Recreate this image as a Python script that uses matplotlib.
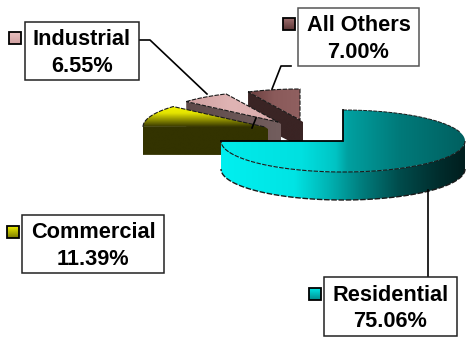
"""Customer class shares as an exploded 3D-look pie with boxed callouts."""

import matplotlib
matplotlib.use("Agg")
import matplotlib.pyplot as plt
import numpy as np
from matplotlib.colors import LinearSegmentedColormap
from matplotlib.patches import PathPatch, Rectangle
from matplotlib.path import Path

plt.rcParams["font.family"] = ["Liberation Sans", "DejaVu Sans"]

categories = ["Residential", "Commercial", "Industrial", "All Others"]
shares = [75.06, 11.39, 6.55, 7.00]

# layout, in pixels from the top left corner
W, H = 466, 337
RX, RY, DEPTH = 122, 31, 28
centers = {"Residential": (343, 141), "Commercial": (265, 127),
           "Industrial": (278, 122), "All Others": (300, 120)}
boxes = {"Residential": (324, 277, 133, 59), "Commercial": (22, 215, 142, 58),
         "Industrial": (25, 22, 114, 58), "All Others": (298, 8, 121, 58)}
swatches = {"Residential": (309, 288), "Commercial": (7, 226),
            "Industrial": (9, 32), "All Others": (283, 18)}
leaders = {"Residential": [(428, 190), (428, 277)],
           "Commercial": [(256, 118), (252, 128)],
           "Industrial": [(139, 40), (150, 40), (207, 94)],
           "All Others": [(291, 66), (281, 66), (272, 89)]}

top_colors = {"Residential": [(0, "#00ebeb"), (0.33, "#00e0e0"), (0.47, "#00c4c4"),
                              (0.52, "#00a0a0"), (0.73, "#007a7a"), (1, "#006060")],
              "Commercial": ["#f4f400", "#e4e400", "#8c8c00", "#333300"],
              "Industrial": ["#cfa0a0", "#e0b4b4", "#d8aaaa"],
              "All Others": ["#6a3e3e", "#8a5a5a", "#906060"]}
side_colors = {"Residential": [(0, "#00f0f0"), (0.3, "#00e4e4"), (0.45, "#00b0b0"),
                               (0.57, "#008080"), (0.73, "#004c4c"), (0.9, "#002c2c"),
                               (1, "#001e1e")],
               "Commercial": ["#333300", "#333300"],
               "Industrial": ["#5e4a4a", "#735e5e"],
               "All Others": ["#3a2424", "#3a2424"]}
swatch_colors = {"Residential": ["#00e8e8", "#008c8c"], "Commercial": ["#f0f000", "#7a7a00"],
                 "Industrial": ["#e8c0c0", "#d0a0a0"], "All Others": ["#a07070", "#5a3434"]}


def ellipse_point(cx, cy, angle):
    # angle is clockwise from north, in degrees
    a = np.radians(angle)
    return cx + RX * np.sin(a), cy - RY * np.cos(a)


def arc(cx, cy, start, stop):
    angles = np.linspace(start, stop, 90)
    x, y = ellipse_point(cx, cy, angles)
    return np.column_stack([x, y])


def gradient_fill(ax, verts, colors, vertical=False, zorder=1):
    cmap = LinearSegmentedColormap.from_list("face", colors)
    x0, y0 = verts.min(axis=0)
    x1, y1 = verts.max(axis=0)
    ramp = np.linspace(0, 1, 256)
    ramp = ramp[:, None] if vertical else ramp[None, :]
    im = ax.imshow(ramp, cmap=cmap, extent=(x0, x1, y1, y0), aspect="auto",
                   zorder=zorder, interpolation="bilinear", origin="upper")
    clip = PathPatch(Path(np.vstack([verts, verts[:1]]), closed=True),
                     transform=ax.transData, fc="none", ec="none")
    ax.add_patch(clip)
    im.set_clip_path(clip)


def dashed(ax, verts, zorder, lw=0.8):
    ax.plot(verts[:, 0], verts[:, 1], color="#1a1a1a", lw=lw, zorder=zorder,
            ls=(0, (4, 1.2)), solid_capstyle="butt")


fig = plt.figure(figsize=(W / 100, H / 100), dpi=100)
ax = fig.add_axes([0, 0, 1, 1])

# slice angles come from the shares, running clockwise from north
stops = np.cumsum([0] + shares) * 3.6
spans = {c: (stops[i], stops[i + 1]) for i, c in enumerate(categories)}

# back to front so nearer slices cover the ones behind
for z, name in enumerate(["All Others", "Industrial", "Commercial"], start=1):
    cx, cy = centers[name]
    start, stop = spans[name]
    edge = arc(cx, cy, start, stop)
    left = edge[0]
    apex = np.array([cx, cy], dtype=float)
    z0 = z * 10

    # cut face along the front of the wedge, plus a sliver of the far cut
    cut = np.array([left, apex, apex + [3, 2], apex + [3, DEPTH], left + [0, DEPTH]])
    gradient_fill(ax, cut, side_colors[name], zorder=z0)

    top = np.vstack([apex, edge])
    gradient_fill(ax, top, top_colors[name], vertical=name == "Commercial", zorder=z0 + 1)
    if name == "Commercial":
        dashed(ax, np.vstack([edge, apex]), z0 + 2)
    else:
        dashed(ax, np.vstack([edge, apex, left]), z0 + 2)

# the large slice: side wall first, then the top face over it
name = "Residential"
cx, cy = centers[name]
start, stop = spans[name]
front = arc(cx, cy, 90, 270)
wall = np.vstack([front, front[::-1] + [0, DEPTH]])
gradient_fill(ax, wall, side_colors[name], zorder=50)
edge = arc(cx, cy, start, stop)
top = np.vstack([[cx, cy], edge])
gradient_fill(ax, top, top_colors[name], zorder=51)
dashed(ax, front, 52, lw=0.8)
dashed(ax, front + [0, DEPTH], 52, lw=1.0)
dashed(ax, edge[:25], 52, lw=0.7)
ax.plot([edge[-1][0], cx, cx], [cy, cy, cy - RY], color="black", lw=1.3, zorder=53,
        solid_joinstyle="miter")

# leader lines sit over the slices, the callouts over the lines
for name, pts in leaders.items():
    xs, ys = zip(*pts)
    ax.plot(xs, ys, color="black", lw=1.2, zorder=60)

for name, share in zip(categories, shares):
    x, y, w, h = boxes[name]
    edgecolor = "#555555" if name == "All Others" else "#222222"
    ax.add_patch(Rectangle((x, y), w, h, fc="white", ec=edgecolor, lw=1.1, zorder=70))
    ax.text(x + w / 2, y + h * 0.31, name, ha="center", va="center", fontsize=15.7,
            fontweight="bold", color="black", zorder=71)
    ax.text(x + w / 2, y + h * 0.76, f"{share:.2f}%", ha="center", va="center",
            fontsize=15.7, fontweight="bold", color="black", zorder=71)

    sx, sy = swatches[name]
    gradient_fill(ax, np.array([[sx, sy], [sx + 12, sy], [sx + 12, sy + 12], [sx, sy + 12]],
                               dtype=float),
                  swatch_colors[name], vertical=True, zorder=70)
    ax.add_patch(Rectangle((sx, sy), 12, 12, fc="none", ec="black", lw=1.3, zorder=71))

ax.set_xlim(0, W)
ax.set_ylim(H, 0)
ax.axis("off")

fig.savefig("out.png", dpi=100)
